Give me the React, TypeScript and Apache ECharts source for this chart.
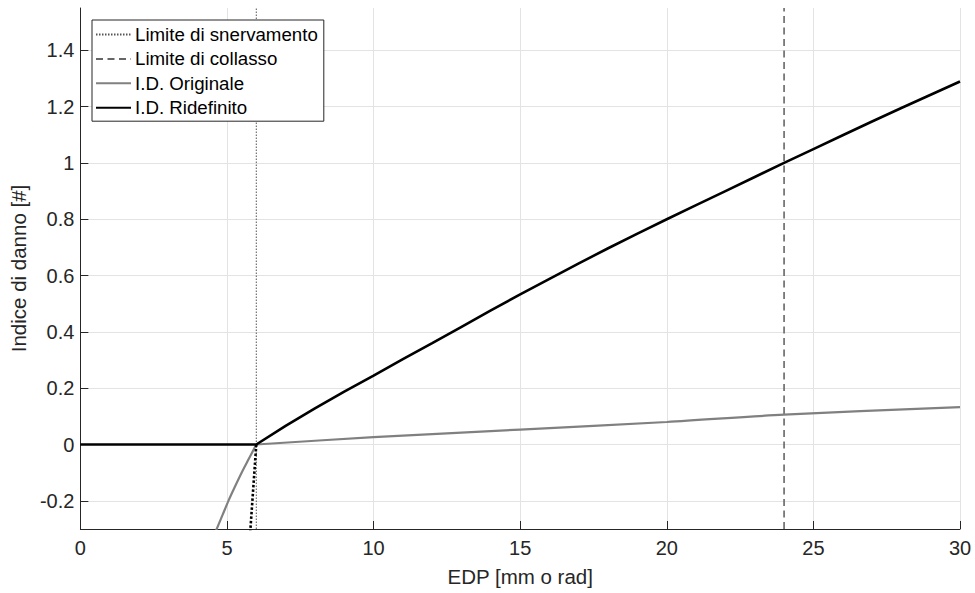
import React, { useEffect, useRef } from "react";
import * as echarts from "echarts";

// Axis ranges and ticks
const xMin = 0;
const xMax = 30;
const xInterval = 5;
const yMin = -0.3;
const yMax = 1.55;
const yTicks = [-0.2, 0, 0.2, 0.4, 0.6, 0.8, 1, 1.2, 1.4];

// Vertical limits
const yieldLimitX = 6;
const collapseLimitX = 24;

// I.D. Ridefinito (black)
const redefX = [0, 6, 7, 8, 9, 10, 11, 12, 13, 14, 15, 16, 17, 18, 19, 20, 21, 22, 23, 24, 25, 26, 27, 28, 29, 30];
const redefY = [0, 0, 0.066, 0.128, 0.188, 0.245, 0.303, 0.36, 0.418, 0.476, 0.533, 0.588, 0.643, 0.697, 0.749, 0.8, 0.85, 0.9, 0.95, 1.0, 1.049, 1.098, 1.147, 1.195, 1.242, 1.289];

// Black dotted extension below zero
const redefExtX = [6, 5.8, 5.78];
const redefExtY = [0, -0.3, -0.33];

// I.D. Originale (gray), negative branch and positive branch
const origNegX = [4.58, 4.65, 4.85, 5.05, 5.27, 5.5, 5.75, 6];
const origNegY = [-0.32, -0.3, -0.25, -0.2, -0.15, -0.1, -0.05, 0];
const origPosX = [6, 10, 15, 20, 24, 30];
const origPosY = [0, 0.026, 0.053, 0.08, 0.106, 0.133];

const names = ["Limite di snervamento", "Limite di collasso", "I.D. Originale", "I.D. Ridefinito"];

const zip = (xs: number[], ys: number[]) => xs.map((x, i) => [x, ys[i]]);

const FONT = "Liberation Sans";
const TXT = "#262626";

export default function App() {
  const ref = useRef<HTMLDivElement>(null);
  useEffect(() => {
    if (!ref.current) return;
    const chart = echarts.init(ref.current, undefined, { renderer: "svg" });
    chart.setOption({
      animation: false,
      textStyle: { fontFamily: FONT },
      grid: { left: 80, right: 15, top: 8, bottom: 64, containLabel: false },
      legend: {
        data: names,
        orient: "vertical",
        left: 92,
        top: 20,
        padding: [4, 6, 3, 3],
        itemGap: 3.4,
        itemWidth: 35,
        itemHeight: 14,
        itemStyle: { opacity: 0 },
        backgroundColor: "#ffffff",
        borderColor: "#262626",
        borderWidth: 1,
        borderRadius: 0,
        textStyle: { fontFamily: FONT, fontSize: 18.7, color: "#000", lineHeight: 21, padding: [0, 0, 0, -1] },
      },
      xAxis: {
        type: "value",
        min: xMin,
        max: xMax,
        interval: xInterval,
        name: "EDP [mm o rad]",
        nameLocation: "middle",
        nameGap: 37,
        nameTextStyle: { fontFamily: FONT, fontSize: 20.5, color: TXT },
        axisLine: { show: true, onZero: false, lineStyle: { color: TXT, width: 1 } },
        axisTick: { show: true, inside: true, length: 8, lineStyle: { color: TXT } },
        axisLabel: { fontFamily: FONT, fontSize: 20, color: TXT, margin: 9 },
        splitLine: { show: true, lineStyle: { color: "#e3e3e3", width: 1 } },
      },
      yAxis: {
        type: "value",
        min: yMin,
        max: yMax,
        name: "Indice di danno [#]",
        nameLocation: "middle",
        nameGap: 47,
        nameTextStyle: { fontFamily: FONT, fontSize: 20.5, color: TXT },
        axisLine: { show: true, onZero: false, lineStyle: { color: TXT, width: 1 } },
        axisTick: { show: true, inside: true, length: 8, lineStyle: { color: TXT }, customValues: yTicks },
        axisLabel: {
          fontFamily: FONT,
          fontSize: 20,
          color: TXT,
          margin: 6,
          customValues: yTicks,
          formatter: (v: number) => String(Math.round(v * 10) / 10),
        },
        splitLine: { show: true, lineStyle: { color: "#e3e3e3", width: 1 } },
      },
      series: [
        {
          name: names[0],
          type: "line",
          symbol: "none",
          data: [[yieldLimitX, yMin], [yieldLimitX, yMax]],
          lineStyle: { color: "#555555", width: 1, type: [1.5, 1.5] },
          itemStyle: { color: "#555555" },
          z: 3,
        },
        {
          name: names[1],
          type: "line",
          symbol: "none",
          data: [[collapseLimitX, yMin], [collapseLimitX, yMax]],
          lineStyle: { color: "#666666", width: 1.6, type: [7, 4.5] },
          itemStyle: { color: "#666666" },
          z: 3,
        },
        {
          name: "origNeg",
          type: "line",
          symbol: "none",
          smooth: 0.3,
          data: zip(origNegX, origNegY),
          lineStyle: { color: "#808080", width: 2.2 },
          itemStyle: { color: "#808080" },
          z: 4,
        },
        {
          name: names[2],
          type: "line",
          symbol: "none",
          smooth: 0.3,
          data: zip(origPosX, origPosY),
          lineStyle: { color: "#808080", width: 2.2 },
          itemStyle: { color: "#808080" },
          z: 4,
        },
        {
          name: "ext",
          type: "line",
          symbol: "none",
          data: zip(redefExtX, redefExtY),
          lineStyle: { color: "#000000", width: 2.6, type: [2.5, 2] },
          itemStyle: { color: "#000000" },
          z: 5,
        },
        {
          name: names[3],
          type: "line",
          symbol: "none",
          data: zip(redefX, redefY),
          lineStyle: { color: "#000000", width: 2.6 },
          itemStyle: { color: "#000000" },
          z: 6,
        },
      ],
    });
    return () => chart.dispose();
  }, []);
  return (
    <div
      ref={ref}
      style={{ position: "fixed", left: 0, top: 0, width: 975, height: 593, background: "#ffffff" }}
    />
  );
}
